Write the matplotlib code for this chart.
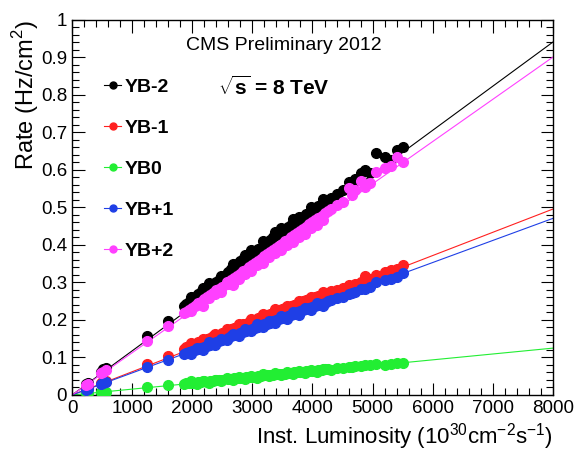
import matplotlib
matplotlib.use("Agg")
import matplotlib.pyplot as plt
from matplotlib.ticker import MultipleLocator
from matplotlib.lines import Line2D

plt.rcParams['font.family'] = ['Liberation Sans', 'DejaVu Sans']
plt.rcParams['mathtext.fontset'] = 'custom'
plt.rcParams['mathtext.rm'] = 'Liberation Sans'
plt.rcParams['mathtext.bf'] = 'Liberation Sans:bold'

# instantaneous luminosity (1e30 cm^-2 s^-1), shared by all wheels
lumi = [230, 260, 480, 520, 560, 1250, 1600,
        1870, 1900, 1950, 2000, 2050, 2100, 2150, 2200, 2250, 2300, 2350, 2400, 2450, 2500,
        2600, 2650, 2700, 2750, 2800, 2850, 2900, 2950, 3000,
        3050, 3100, 3150, 3200, 3250, 3300, 3350, 3400, 3450, 3500,
        3550, 3600, 3650, 3700, 3750, 3800, 3850, 3900, 3950, 4000,
        4050, 4100, 4150, 4200, 4250, 4400, 4600, 4650, 4800, 4950,
        5050, 5200, 5400, 5500,
        1980, 2080, 2180, 2280, 2380, 2480, 2580, 2680, 2780, 2880,
        2980, 3080, 3180, 3280, 3380, 3480, 3580, 3680, 3780, 3880,
        3980, 4080, 4180, 4300, 4500, 4700, 4880, 5300]

yb_m2 = [0.030, 0.033, 0.062, 0.068, 0.073, 0.157, 0.197,
         0.236, 0.243, 0.248, 0.255, 0.262, 0.270, 0.274, 0.281, 0.280, 0.290, 0.296, 0.301, 0.306, 0.309,
         0.328, 0.336, 0.341, 0.349, 0.356, 0.362, 0.366, 0.371, 0.378,
         0.381, 0.389, 0.392, 0.400, 0.407, 0.413, 0.420, 0.426, 0.428, 0.437,
         0.441, 0.448, 0.452, 0.458, 0.466, 0.470, 0.474, 0.482, 0.486, 0.490,
         0.497, 0.503, 0.508, 0.516, 0.518, 0.536, 0.567, 0.560, 0.590, 0.592,
         0.644, 0.634, 0.652, 0.661,
         0.262, 0.258, 0.286, 0.298, 0.297, 0.318, 0.322, 0.350, 0.345, 0.372,
         0.385, 0.380, 0.410, 0.402, 0.433, 0.445, 0.438, 0.470, 0.475, 0.470,
         0.500, 0.492, 0.522, 0.525, 0.545, 0.575, 0.600, 0.625]

yb_m1 = [0.016, 0.018, 0.033, 0.036, 0.038, 0.082, 0.104,
         0.123, 0.128, 0.130, 0.133, 0.136, 0.140, 0.142, 0.146, 0.150, 0.152, 0.156, 0.160, 0.161, 0.165,
         0.171, 0.175, 0.178, 0.182, 0.185, 0.189, 0.190, 0.195, 0.198,
         0.200, 0.204, 0.207, 0.210, 0.213, 0.216, 0.219, 0.222, 0.225, 0.228,
         0.231, 0.235, 0.237, 0.240, 0.243, 0.246, 0.249, 0.252, 0.255, 0.258,
         0.262, 0.264, 0.267, 0.271, 0.272, 0.280, 0.292, 0.290, 0.302, 0.310,
         0.320, 0.328, 0.336, 0.345,
         0.138, 0.132, 0.150, 0.145, 0.163, 0.158, 0.175, 0.168, 0.188, 0.184,
         0.202, 0.196, 0.215, 0.210, 0.228, 0.222, 0.238, 0.236, 0.250, 0.246,
         0.262, 0.258, 0.275, 0.276, 0.285, 0.296, 0.316, 0.333]

yb_0 = [0.004, 0.004, 0.008, 0.008, 0.009, 0.021, 0.026,
        0.030, 0.031, 0.031, 0.033, 0.032, 0.035, 0.034, 0.036, 0.035, 0.038, 0.037, 0.039, 0.040, 0.041,
        0.042, 0.043, 0.044, 0.044, 0.046, 0.046, 0.047, 0.047, 0.049,
        0.049, 0.050, 0.051, 0.052, 0.052, 0.054, 0.054, 0.055, 0.056, 0.057,
        0.057, 0.058, 0.059, 0.060, 0.061, 0.061, 0.062, 0.063, 0.064, 0.065,
        0.065, 0.066, 0.067, 0.068, 0.068, 0.071, 0.074, 0.075, 0.077, 0.080,
        0.083, 0.079, 0.086, 0.085,
        0.036, 0.030, 0.038, 0.033, 0.041, 0.037, 0.045, 0.040, 0.048, 0.043,
        0.051, 0.046, 0.055, 0.050, 0.058, 0.053, 0.061, 0.056, 0.064, 0.059,
        0.067, 0.062, 0.070, 0.066, 0.072, 0.077, 0.081, 0.083]

yb_p1 = [0.014, 0.016, 0.029, 0.032, 0.034, 0.074, 0.094,
         0.110, 0.112, 0.114, 0.117, 0.120, 0.123, 0.125, 0.128, 0.131, 0.134, 0.137, 0.140, 0.143, 0.147,
         0.152, 0.156, 0.159, 0.161, 0.165, 0.167, 0.170, 0.174, 0.176,
         0.179, 0.182, 0.185, 0.188, 0.190, 0.193, 0.197, 0.199, 0.202, 0.205,
         0.208, 0.211, 0.214, 0.217, 0.220, 0.223, 0.226, 0.228, 0.232, 0.234,
         0.237, 0.240, 0.243, 0.246, 0.249, 0.258, 0.270, 0.272, 0.283, 0.288,
         0.300, 0.305, 0.314, 0.325,
         0.110, 0.126, 0.120, 0.140, 0.132, 0.150, 0.147, 0.162, 0.156, 0.175,
         0.170, 0.188, 0.180, 0.198, 0.192, 0.210, 0.203, 0.222, 0.214, 0.233,
         0.226, 0.244, 0.238, 0.252, 0.262, 0.275, 0.282, 0.308]

yb_p2 = [0.027, 0.030, 0.058, 0.062, 0.066, 0.145, 0.185,
         0.218, 0.222, 0.226, 0.232, 0.238, 0.244, 0.248, 0.256, 0.262, 0.265, 0.272, 0.279, 0.283, 0.288,
         0.296, 0.305, 0.311, 0.318, 0.322, 0.330, 0.334, 0.340, 0.346,
         0.352, 0.358, 0.362, 0.369, 0.375, 0.380, 0.386, 0.392, 0.398, 0.402,
         0.410, 0.414, 0.421, 0.425, 0.432, 0.437, 0.443, 0.448, 0.455, 0.460,
         0.466, 0.471, 0.476, 0.484, 0.489, 0.505, 0.550, 0.532, 0.570, 0.564,
         0.594, 0.604, 0.634, 0.620,
         0.225, 0.240, 0.238, 0.258, 0.268, 0.275, 0.300, 0.292, 0.310, 0.322,
         0.330, 0.345, 0.352, 0.368, 0.378, 0.385, 0.400, 0.408, 0.420, 0.430,
         0.445, 0.452, 0.465, 0.495, 0.515, 0.545, 0.555, 0.610]

labels = ['YB-2', 'YB-1', 'YB0', 'YB+1', 'YB+2']
colors = ['black', '#ff2020', '#22ee33', '#1f3fe6', '#ff40ff']
# linear fit slopes (rate per unit lumi), lines drawn up to 8000
fit_slope = [0.1175e-3, 0.0619e-3, 0.0156e-3, 0.0588e-3, 0.1125e-3]
series = [yb_m2, yb_m1, yb_0, yb_p1, yb_p2]

fig = plt.figure(figsize=(5.79, 4.57), dpi=100)
ax = fig.add_axes([0.1244, 0.1357, 0.8306, 0.8216])

handles = []
for ys, c, lab, k in zip(series, colors, labels, fit_slope):
    ax.plot([0, 8000], [0, 8000 * k], color=c, lw=0.8, zorder=2)
    ax.plot(lumi, ys, 'o', color=c, ms=7, mec=c, zorder=3)
    handles.append(Line2D([0], [0], color=c, lw=0.8, marker='o', ms=5, label=lab))

ax.set_xlim(0, 8000)
ax.set_ylim(0, 1)
ax.xaxis.set_major_locator(MultipleLocator(1000))
ax.xaxis.set_minor_locator(MultipleLocator(200))
ax.yaxis.set_minor_locator(MultipleLocator(0.02))
ax.set_yticks([0, 0.1, 0.2, 0.3, 0.4, 0.5, 0.6, 0.7, 0.8, 0.9, 1])
ax.set_yticklabels(['0', '0.1', '0.2', '0.3', '0.4', '0.5', '0.6', '0.7', '0.8', '0.9', '1'])
ax.tick_params(which='both', direction='in', top=True, right=True, labelsize=13.5, width=0.8)
ax.tick_params(which='major', length=9)
ax.tick_params(which='minor', length=5)
for s in ax.spines.values():
    s.set_linewidth(1.0)

leg = ax.legend(handles=handles, loc='upper left', bbox_to_anchor=(0.03, 0.89),
                frameon=False, handlelength=0.9, handletextpad=0.15, labelspacing=1.2,
                prop={'weight': 'bold', 'size': 14})

ax.text(0.44, 0.93, 'CMS Preliminary 2012', transform=ax.transAxes, ha='center',
        va='center', fontsize=14)
ax.text(0.42, 0.82, r'$\sqrt{\mathbf{s}}$ = 8 TeV', transform=ax.transAxes, ha='center',
        va='center', fontsize=15, fontweight='bold')

fig.text(0.044, 0.957, r'Rate (Hz/cm$^{2}$)', rotation=90, ha='center', va='top', fontsize=17)
fig.text(0.955, 0.045, r'Inst. Luminosity (10$^{30}$cm$^{-2}$s$^{-1}$)', ha='right',
         va='center', fontsize=16)

fig.savefig('out.png', dpi=100)
